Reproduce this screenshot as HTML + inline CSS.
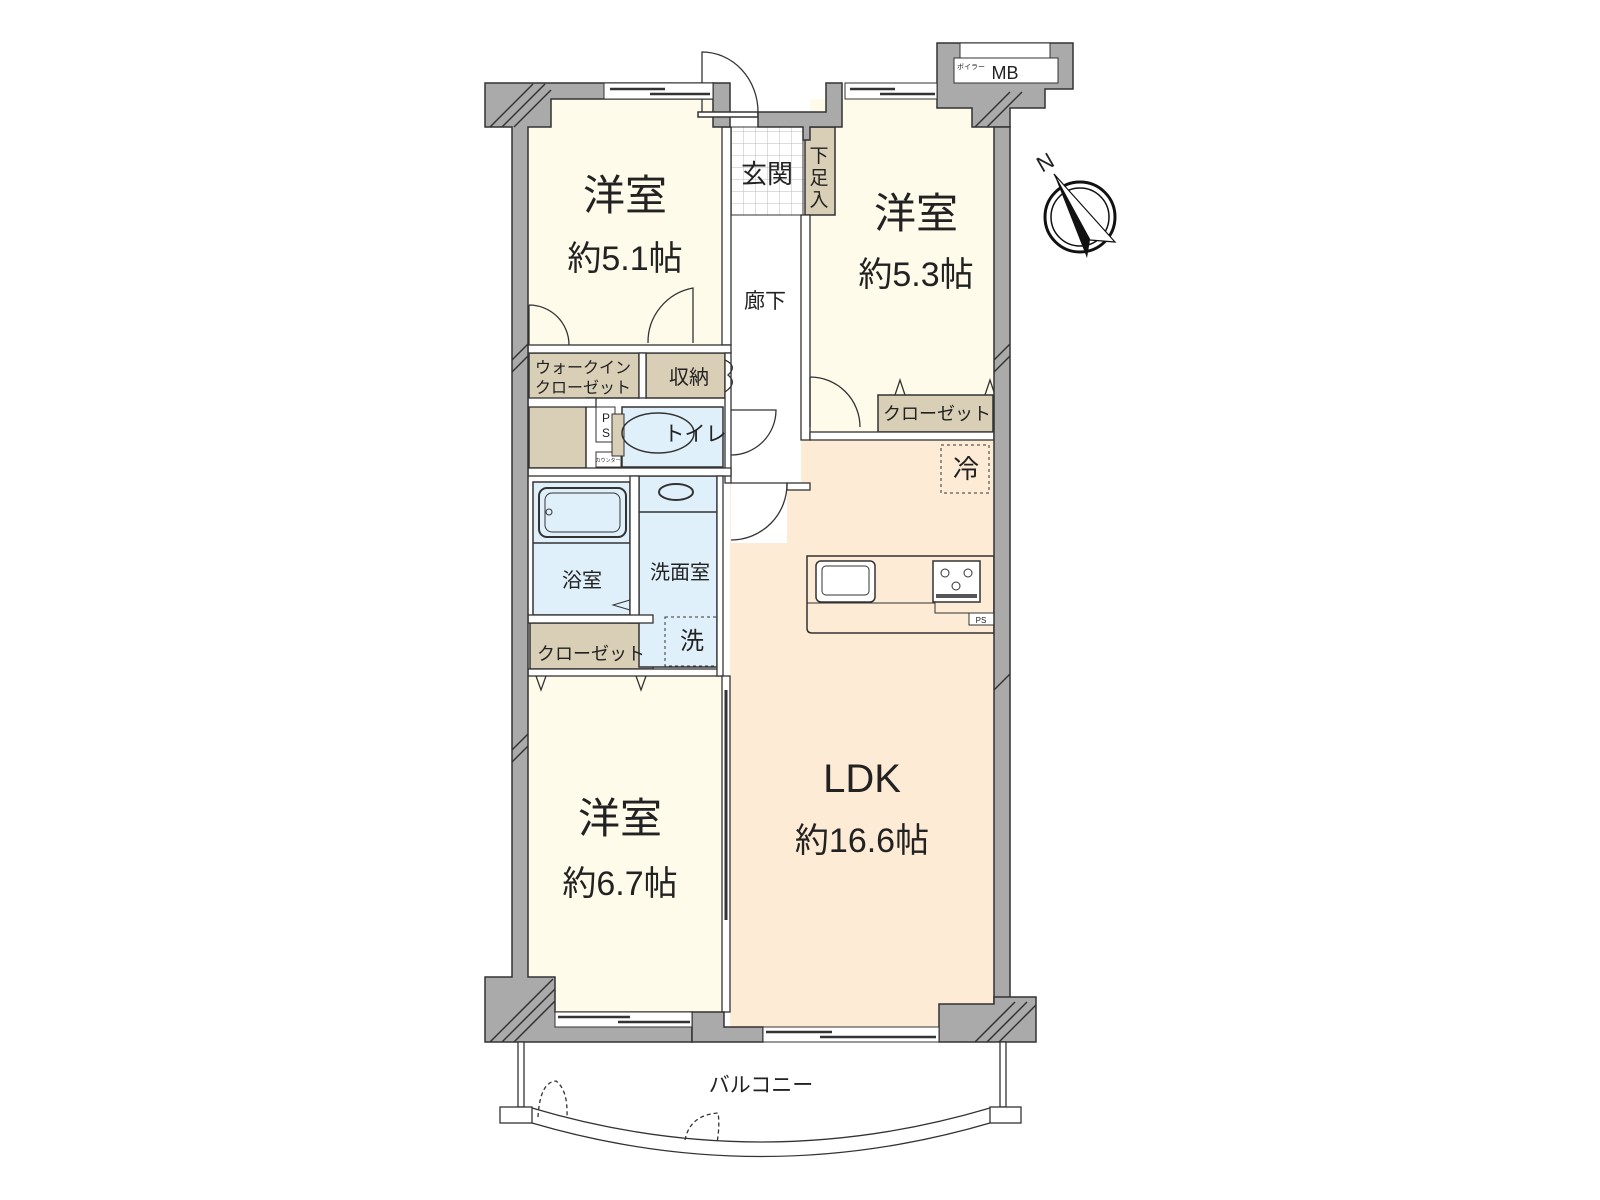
<!DOCTYPE html>
<html><head><meta charset="utf-8"><style>
html,body{margin:0;padding:0;background:#fff;}
svg{display:block;}
text{font-family:"Liberation Sans","Noto Sans CJK JP",sans-serif;fill:#222;}
</style></head><body>
<svg width="1600" height="1200" viewBox="0 0 1600 1200" xmlns="http://www.w3.org/2000/svg">
<defs>
<pattern id="tile" width="12" height="12" patternUnits="userSpaceOnUse"><rect width="12" height="12" fill="#fff"/><path d="M12 0V12M0 12H12" stroke="#bbb" stroke-width="1"/></pattern>
</defs>
<!-- room fills -->
<rect x="528" y="99" width="194" height="246" fill="#fffbea"/>
<rect x="810" y="99" width="184" height="333" fill="#fffbea"/>
<rect x="528" y="676" width="194" height="336" fill="#fffbea"/>
<rect x="730" y="440" width="264" height="587" fill="#fdebd5"/>
<rect x="731" y="215" width="70" height="268" fill="#fff"/>
<rect x="731" y="483" width="56" height="60" fill="#fff"/>
<rect x="731" y="127" width="72" height="88" fill="url(#tile)" stroke="#333"/>
<!-- closets -->
<g fill="#d9ceb6" stroke="#333" stroke-width="1.5">
<path d="M529 353H639V398H586V468H529Z"/>
<rect x="646" y="353" width="79" height="45"/>
<rect x="805" y="127" width="30" height="88"/>
<rect x="878" y="395" width="115" height="37"/>
<rect x="530" y="623" width="123" height="46"/>
</g>
<!-- wet areas -->
<g fill="#dff0fb" stroke="#333" stroke-width="1.5">
<rect x="622" y="407" width="101" height="60"/>
<rect x="533" y="482" width="97" height="133"/>
<rect x="639" y="476" width="78" height="191"/>
</g>
<line x1="533" y1="543" x2="630" y2="543" stroke="#333" stroke-width="1.5"/>
<line x1="639" y1="512" x2="717" y2="512" stroke="#333" stroke-width="1.5"/>
<rect x="539" y="488" width="87" height="49" rx="8" fill="none" stroke="#333" stroke-width="2"/>
<rect x="545" y="493" width="75" height="39" rx="7" fill="none" stroke="#333" stroke-width="1"/>
<circle cx="549" cy="512" r="3" fill="none" stroke="#333"/>
<ellipse cx="676" cy="492" rx="17" ry="8" fill="none" stroke="#333" stroke-width="2"/>
<rect x="665" y="617" width="54" height="49" fill="none" stroke="#333" stroke-dasharray="3,3"/>
<path d="M630 600L613 605L630 610" fill="none" stroke="#333"/>
<!-- PS boxes -->
<rect x="596" y="407" width="19" height="35" fill="#fff" stroke="#333"/>
<rect x="596" y="452" width="25" height="15" fill="#fff" stroke="#333"/>
<!-- toilet -->
<rect x="612" y="414" width="12" height="42" fill="#d9ceb6" stroke="#333"/>
<ellipse cx="658" cy="433" rx="36" ry="20" fill="none" stroke="#333" stroke-width="1.5"/>
<!-- kitchen -->
<path d="M807 556H994V633H812Q807 633 807 628Z" fill="#fdebd5" stroke="#333" stroke-width="1.5"/>
<path d="M807 603H935V613H969" fill="none" stroke="#333"/>
<rect x="816" y="561" width="59" height="41" rx="5" fill="#fff" stroke="#333" stroke-width="1.5"/>
<rect x="822" y="566" width="47" height="29" rx="4" fill="none" stroke="#333"/>
<rect x="933" y="561" width="47" height="41" fill="#fff" stroke="#333" stroke-width="1.5"/>
<circle cx="945" cy="573" r="4" fill="none" stroke="#333"/><circle cx="968" cy="573" r="4" fill="none" stroke="#333"/><circle cx="956" cy="586" r="4" fill="none" stroke="#333"/>
<rect x="936" y="594" width="41" height="4" fill="#555"/>
<rect x="969" y="613" width="25" height="12" fill="#fff" stroke="#333"/>
<rect x="941" y="445" width="48" height="48" fill="none" stroke="#333" stroke-dasharray="3,3"/>
<!-- interior walls -->
<g fill="#fff" stroke="#333" stroke-width="1.3">
<rect x="722" y="127" width="9" height="218"/>
<rect x="528" y="345" width="203" height="8"/>
<rect x="639" y="353" width="7" height="45"/>
<rect x="725" y="353" width="6" height="130"/>
<rect x="801" y="215" width="9" height="225"/>
<rect x="810" y="432" width="184" height="8"/>
<rect x="528" y="468" width="203" height="8"/>
<rect x="528" y="398" width="68" height="9"/>
<rect x="630" y="476" width="9" height="147"/>
<rect x="528" y="615" width="125" height="8"/>
<rect x="528" y="669" width="194" height="7"/>
<rect x="717" y="476" width="6" height="200"/>
<rect x="722" y="676" width="8" height="336"/>
<rect x="787" y="483" width="23" height="7"/>
</g>
<line x1="726" y1="690" x2="726" y2="920" stroke="#333" stroke-width="3"/>
<!-- doors -->
<g fill="none" stroke="#333" stroke-width="1.3">
<path d="M693 343V288A55 55 0 0 0 648 343"/>
<path d="M529 305V345M529 305A40 40 0 0 1 569 345"/>
<path d="M810 377V427M810 377A50 50 0 0 1 860 427"/>
<path d="M731 410H776A45 45 0 0 1 731 455"/>
<path d="M731 483H787A56 56 0 0 1 731 540"/>
<path d="M702 112V52A56 60 0 0 1 758 112"/>
<path d="M725 360Q738 366 728 375Q738 383 725 392"/>
<path d="M895 395L900 380L905 395M985 395L990 380L995 395"/>
<path d="M536 676L541 690L546 676M636 676L641 690L646 676"/>
</g>
<!-- outer walls -->
<g fill="#aaa" stroke="#333" stroke-width="1.5">
<path d="M485 83H713V99H551V127H528V977H555V1012H692V1042H485V977H512V127H485Z"/>
<rect x="713" y="83" width="17" height="44"/>
<path d="M698 112H758V117H698Z" fill="#fff"/>
<path d="M758 112H826V83H842V127H810V140H803V127H758Z"/>
<path d="M937 43H1073V89H1045V108H1010V127H972V108H937Z"/>
<rect x="994" y="127" width="16" height="880"/>
<path d="M939 1004H994V997H1036V1042H939Z"/>
<path d="M692 1012H724V1027H763V1042H692Z"/>
</g>
<rect x="954" y="58" width="104" height="25" fill="#fff" stroke="#333"/>
<rect x="960" y="43" width="90" height="15" fill="#fff" stroke="#333"/>
<!-- windows -->
<g fill="#fff" stroke="#333">
<rect x="604" y="83" width="109" height="16"/>
<rect x="845" y="83" width="92" height="16"/>
<rect x="555" y="1012" width="137" height="15"/>
<rect x="763" y="1027" width="176" height="15"/>
</g>
<g stroke="#333" stroke-width="2.5">
<line x1="610" y1="89" x2="665" y2="89"/><line x1="650" y1="94" x2="710" y2="94"/>
<line x1="850" y1="89" x2="895" y2="89"/><line x1="880" y1="94" x2="935" y2="94"/>
<line x1="558" y1="1017" x2="630" y2="1017"/><line x1="618" y1="1022" x2="690" y2="1022"/>
<line x1="766" y1="1032" x2="832" y2="1032"/><line x1="820" y1="1037" x2="936" y2="1037"/>
</g>
<!-- hatch -->
<g stroke="#333" stroke-width="1.5">
<path d="M490 127L533 84M502 127L545 84M514 127L551 90"/>
<path d="M490 1042L553 979M502 1042L555 989M514 1042L555 1001"/>
<path d="M975 1042L1015 1002M987 1042L1027 1002M999 1042L1036 1005"/>
<path d="M975 127L1010 92M987 127L1022 92"/>
<path d="M512 360L528 344M512 372L528 356M512 750L528 734M512 762L528 746M994 360L1010 344M994 372L1010 356M994 690L1010 674"/>
</g>
<!-- balcony -->
<g fill="#fff" stroke="#333" stroke-width="1.3">
<rect x="518" y="1042" width="6" height="65"/>
<rect x="1000" y="1042" width="6" height="65"/>
<rect x="500" y="1107" width="32" height="16"/>
<rect x="990" y="1107" width="31" height="16"/>
<path d="M532 1108Q761 1176 990 1108M532 1123Q761 1190 990 1123" fill="none"/>
<path d="M538 1117Q540 1082 556 1081Q568 1090 567 1117M685 1140Q690 1115 718 1113Q720 1125 717 1143" fill="none" stroke-dasharray="4,3"/>
</g>
<!-- compass -->
<circle cx="1080" cy="217" r="35" fill="none" stroke="#111" stroke-width="3"/>
<circle cx="1080" cy="217" r="29" fill="none" stroke="#111" stroke-width="1.5"/>
<path d="M1054 174L1087 258L1090 240Z" fill="#111"/>
<path d="M1054 174L1115 242L1090 240Z" fill="#fff" stroke="#111" stroke-width="1.2"/>
<text x="1045" y="170" font-size="22" font-family="Liberation Serif,serif" text-anchor="middle" transform="rotate(-30 1045 162)">N</text>
<!-- labels -->
<g text-anchor="middle">
<text x="625" y="210" font-size="42">洋室</text>
<text x="625" y="270" font-size="34">約5.1帖</text>
<text x="916" y="228" font-size="42">洋室</text>
<text x="916" y="286" font-size="34">約5.3帖</text>
<text x="620" y="833" font-size="42">洋室</text>
<text x="620" y="895" font-size="34">約6.7帖</text>
<text x="862" y="792" font-size="40">LDK</text>
<text x="862" y="852" font-size="34">約16.6帖</text>
<text x="767" y="183" font-size="26">玄関</text>
<text x="819" y="162" font-size="19">下</text><text x="819" y="184" font-size="19">足</text><text x="819" y="206" font-size="19">入</text>
<text x="765" y="308" font-size="21">廊下</text>
<text x="583" y="373" font-size="16">ウォークイン</text>
<text x="583" y="393" font-size="16">クローゼット</text>
<text x="689" y="384" font-size="20">収納</text>
<text x="695" y="441" font-size="21">トイレ</text>
<text x="606" y="422" font-size="12">P</text><text x="606" y="437" font-size="12">S</text>
<text x="608" y="462" font-size="5">カウンター</text>
<text x="937" y="420" font-size="18">クローゼット</text>
<text x="591" y="660" font-size="18">クローゼット</text>
<text x="582" y="587" font-size="20">浴室</text>
<text x="680" y="579" font-size="20">洗面室</text>
<text x="692" y="649" font-size="24">洗</text>
<text x="966" y="478" font-size="26">冷</text>
<text x="981" y="623" font-size="8">PS</text>
<text x="1005" y="79" font-size="18">MB</text>
<text x="971" y="69" font-size="7">ボイラー</text>
<text x="761" y="1092" font-size="21">バルコニー</text>
</g>
</svg>
</body></html>
